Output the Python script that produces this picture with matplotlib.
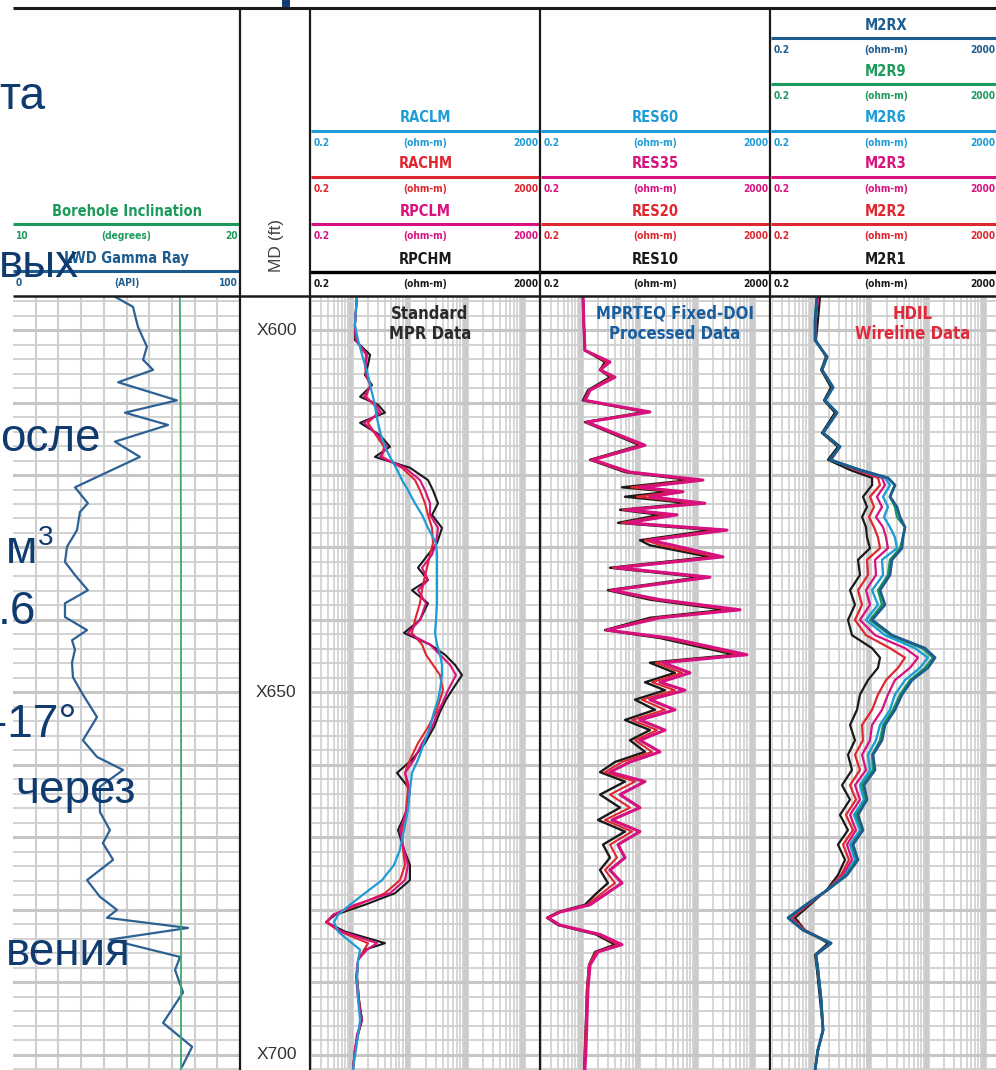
import numpy as np
import matplotlib
matplotlib.use('Agg')
import matplotlib.pyplot as plt
from matplotlib.patches import Rectangle

W, H = 996, 1070
DPI = 100

# ── Log data (depth in ft MD, GR in API, resistivity in ohm-m) ──────────
gr_depth = [595.4, 596.8, 597.9, 599.6, 602.3, 604.1, 605.5, 607.2, 609.7, 611.4,
            613.1, 615.4, 617.5, 621.7, 623.9, 625.1, 627.6, 629.9, 632.0, 633.8,
            635.9, 637.7, 639.6, 641.4, 642.8, 644.1, 645.9, 647.9, 650.1, 653.4,
            656.6, 658.9, 660.7, 663.0, 666.5, 669.0, 670.8, 673.1, 675.9, 678.2,
            680.0, 681.1, 682.5, 684.1, 686.5, 688.3, 691.4, 695.6, 698.9, 701.7]
gr_api = [44.9, 52.9, 53.7, 55.1, 59.0, 57.3, 61.7, 46.3, 72.2, 49.3,
          68.3, 44.9, 55.9, 27.3, 33.0, 29.5, 28.2, 23.8, 22.9, 27.3,
          33.0, 22.9, 22.9, 32.6, 26.0, 27.3, 26.0, 26.4, 30.4, 37.0,
          30.8, 37.0, 48.5, 38.3, 38.3, 42.7, 39.6, 44.1, 32.6, 38.3,
          45.8, 41.4, 77.1, 42.7, 73.6, 71.4, 74.9, 66.1, 78.9, 74.4]

incl_depth = [595.3, 610.0, 630.0, 650.0, 670.0, 690.0, 702.1]
incl_deg = [17.35, 17.38, 17.40, 17.40, 17.41, 17.40, 17.40]

# Standard MPR data
std_depth = [595.3, 597.2, 599.3, 601.4, 603.4, 604.8, 606.2, 607.6, 609.2, 610.3,
             611.4, 612.8, 614.5, 616.1, 617.5, 619.0, 620.7, 622.1, 623.9, 625.5,
             627.3, 629.4, 631.0, 632.8, 634.5, 635.9, 637.7, 640.0, 641.8, 643.4,
             644.8, 646.2, 647.6, 649.7, 651.0, 652.7, 654.8, 657.0, 659.3, 661.1,
             663.4, 666.2, 669.0, 671.7, 673.8, 675.9, 677.7, 679.3, 680.7, 681.7,
             683.0, 684.6, 685.5, 686.9, 689.2, 692.4, 695.2, 697.2, 699.3, 702.1]
raclm = [1.27, 1.22, 1.17, 1.33, 1.56, 1.75, 1.98, 2.15, 2.42, 2.62,
         2.73, 2.96, 3.34, 3.92, 4.80, 6.11, 7.77, 9.89, 13.1, 17.4,
         22.1, 30.5, 31.8, 31.8, 31.8, 31.8, 31.8, 30.5, 29.3, 31.8,
         35.8, 38.8, 38.8, 35.8, 33.1, 28.1, 24.0, 18.8, 14.8, 11.6,
         10.7, 9.89, 8.43, 7.17, 5.64, 3.48, 1.75, 0.96, 0.593, 0.504,
         0.593, 1.04, 1.44, 1.33, 1.27, 1.33, 1.44, 1.33, 1.22, 1.08]
rachm = [1.27, 1.22, 1.17, 1.22, 1.83, 1.75, 1.83, 2.15, 1.83, 2.52,
         2.96, 1.98, 2.73, 3.77, 3.48, 7.77, 13.1, 16.0, 19.6, 22.1,
         26.0, 27.0, 24.0, 21.3, 18.8, 17.4, 16.0, 13.1, 11.6, 17.4,
         20.4, 27.0, 35.8, 40.4, 35.8, 30.5, 22.1, 14.8, 10.7, 8.77,
         9.89, 9.13, 7.77, 8.09, 8.77, 7.17, 3.92, 1.33, 0.484, 0.366,
         0.643, 1.98, 1.69, 1.33, 1.27, 1.38, 1.49, 1.33, 1.17, 1.08]
rpclm = [1.27, 1.22, 1.17, 1.22, 1.90, 1.83, 1.83, 2.23, 1.69, 2.73,
         3.34, 1.69, 2.96, 4.25, 3.21, 8.77, 16.0, 19.6, 24.0, 24.0,
         33.1, 30.5, 26.0, 17.4, 22.1, 14.8, 20.4, 16.0, 9.89, 24.0,
         35.8, 53.6, 68.2, 49.4, 42.1, 33.1, 26.0, 17.4, 12.6, 8.77,
         10.7, 9.51, 7.17, 8.43, 9.89, 8.77, 4.80, 1.17, 0.484, 0.381,
         0.696, 2.84, 1.90, 1.33, 1.22, 1.33, 1.56, 1.27, 1.17, 1.08]
rpchm = [1.27, 1.22, 1.17, 1.17, 2.15, 1.98, 1.75, 2.33, 1.44, 2.96,
         3.92, 1.44, 3.21, 4.80, 2.62, 10.7, 22.1, 27.0, 33.1, 26.0,
         38.8, 31.8, 22.1, 14.8, 22.1, 11.6, 22.1, 16.0, 8.43, 24.0,
         43.8, 65.5, 86.8, 58.1, 45.6, 35.8, 28.1, 19.6, 11.6, 6.36,
         10.7, 9.51, 6.62, 8.43, 10.7, 10.7, 5.86, 1.75, 0.525, 0.366,
         0.785, 3.92, 1.75, 1.33, 1.27, 1.38, 1.56, 1.33, 1.17, 1.08]

# MPRTEQ fixed-DOI processed data
teq_depth = [595.3, 600.0, 602.8, 604.4, 605.5, 606.5, 608.3, 609.7, 611.3, 612.7,
             615.9, 617.9, 619.6, 620.7, 621.7, 622.3, 623.0, 623.9, 624.8, 625.5,
             626.6, 627.6, 629.0, 629.7, 631.3, 632.8, 634.1, 635.9, 637.2, 638.6,
             639.7, 641.4, 642.5, 644.8, 645.9, 647.3, 648.6, 649.7, 651.0, 652.4,
             653.8, 655.2, 656.6, 658.2, 659.6, 661.0, 662.3, 664.1, 665.9, 667.6,
             669.2, 671.0, 672.8, 674.5, 676.3, 677.9, 679.3, 680.3, 681.1, 682.1,
             683.4, 684.8, 685.8, 687.6, 691.0, 695.2, 699.3, 702.1]
res35 = [1.08, 1.13, 1.17, 3.21, 2.15, 3.92, 1.44, 1.17, 16.0, 1.27,
         13.1, 1.62, 7.17, 135, 10.7, 60.4, 16.0, 146, 6.35, 47.5,
         6.35, 355, 16.0, 40.4, 302, 4.25, 179, 3.48, 24.0, 598,
         24.0, 2.84, 35.8, 793, 27.0, 80.1, 24.0, 65.5, 16.0, 43.8,
         10.7, 29.3, 10.7, 24.0, 7.17, 3.21, 13.1, 4.80, 10.7, 3.48,
         10.7, 4.43, 5.86, 3.21, 5.20, 2.62, 1.44, 0.43, 0.265, 0.43,
         2.15, 5.20, 1.98, 1.44, 1.32, 1.27, 1.22, 1.17]
res60 = [1.08, 1.13, 1.17, 3.10, 2.15, 3.80, 1.44, 1.17, 15.5, 1.27,
         12.8, 1.62, 7.00, 128, 10.5, 58.0, 15.6, 140, 6.30, 46.0,
         6.30, 340, 15.6, 39.5, 290, 4.20, 172, 3.45, 23.5, 570,
         23.5, 2.80, 35.0, 760, 26.5, 78.0, 23.5, 64.0, 15.6, 43.0,
         10.5, 28.8, 10.5, 23.5, 7.00, 3.15, 12.8, 4.70, 10.5, 3.40,
         10.5, 4.35, 5.75, 3.15, 5.10, 2.58, 1.42, 0.43, 0.265, 0.43,
         2.10, 5.10, 1.96, 1.43, 1.31, 1.26, 1.21, 1.16]
res20 = [1.08, 1.13, 1.17, 2.84, 2.15, 3.48, 1.38, 1.13, 14.2, 1.22,
         11.6, 1.49, 6.35, 102, 7.47, 45.6, 9.51, 106, 5.41, 33.1,
         5.20, 258, 13.1, 24.9, 228, 3.62, 146, 3.21, 19.6, 434,
         19.6, 2.73, 29.3, 623, 20.4, 58.1, 17.4, 43.8, 11.6, 29.3,
         7.78, 21.3, 8.77, 17.4, 5.20, 2.62, 8.77, 3.21, 7.17, 2.62,
         7.78, 3.21, 4.25, 2.62, 3.92, 2.15, 1.27, 0.415, 0.255, 0.415,
         1.98, 4.43, 1.83, 1.38, 1.27, 1.22, 1.17, 1.13]
res10 = [1.08, 1.13, 1.17, 2.62, 2.15, 3.21, 1.32, 1.08, 13.1, 1.17,
         10.7, 1.44, 5.86, 80.1, 5.20, 35.8, 5.86, 80.1, 4.80, 24.0,
         4.43, 194, 10.7, 16.0, 179, 3.21, 120, 2.95, 16.0, 327,
         16.0, 2.62, 24.0, 489, 16.0, 43.8, 13.1, 29.3, 8.77, 19.6,
         5.86, 16.0, 7.17, 13.1, 3.92, 2.15, 5.86, 2.15, 4.80, 1.98,
         5.86, 2.42, 3.21, 2.15, 2.95, 1.76, 1.17, 0.40, 0.255, 0.40,
         1.83, 3.92, 1.76, 1.38, 1.27, 1.22, 1.17, 1.13]

# HDIL wireline data
hdil_depth = [595.3, 598.6, 601.4, 603.7, 605.5, 607.9, 609.7, 611.4, 614.2, 616.1,
              617.9, 619.3, 620.4, 621.4, 623.0, 624.4, 625.8, 627.2, 628.6, 630.1,
              631.7, 633.8, 635.9, 637.9, 640.0, 642.1, 643.9, 645.2, 646.6, 648.3,
              650.3, 652.4, 654.5, 656.6, 658.6, 660.7, 662.8, 664.8, 666.9, 669.0,
              671.0, 673.1, 675.2, 677.2, 679.3, 681.1, 682.8, 684.6, 686.2, 688.3,
              692.4, 696.6, 699.3, 702.1]
m2r1 = [1.38, 1.27, 1.17, 1.75, 1.44, 2.15, 1.62, 2.52, 1.49, 2.84,
        1.90, 4.61, 11.2, 11.2, 7.77, 9.13, 7.47, 8.77, 9.13, 10.3,
        6.35, 6.88, 4.61, 5.63, 4.25, 4.99, 11.2, 15.4, 14.2, 9.50,
        6.88, 6.10, 4.61, 5.63, 4.25, 4.99, 3.34, 4.61, 3.08, 4.25,
        2.84, 3.77, 2.84, 1.83, 0.922, 0.505, 0.754, 1.90, 1.13, 1.22,
        1.38, 1.56, 1.27, 1.13]
m2r2 = [1.27, 1.17, 1.13, 1.83, 1.49, 2.33, 1.69, 2.73, 1.56, 3.08,
        2.15, 5.86, 14.2, 15.4, 10.3, 12.1, 9.89, 12.1, 14.2, 15.4,
        9.13, 9.50, 6.35, 7.47, 5.63, 8.77, 23.0, 42.1, 31.8, 19.6,
        14.2, 11.2, 7.47, 7.77, 5.63, 6.88, 4.61, 5.86, 3.92, 5.20,
        3.48, 4.43, 3.21, 1.90, 0.850, 0.447, 0.754, 2.06, 1.17, 1.27,
        1.44, 1.56, 1.27, 1.13]
m2r3 = [1.27, 1.17, 1.13, 1.83, 1.49, 2.33, 1.69, 2.73, 1.56, 3.08,
        2.15, 6.35, 16.7, 18.8, 13.6, 16.7, 13.1, 17.4, 19.6, 21.2,
        12.6, 13.1, 8.77, 10.3, 6.88, 12.6, 42.1, 71.0, 51.5, 28.1,
        21.2, 16.7, 11.2, 10.3, 7.47, 8.77, 5.63, 6.88, 4.61, 5.86,
        4.08, 4.99, 3.48, 1.90, 0.817, 0.413, 0.724, 2.15, 1.17, 1.27,
        1.44, 1.56, 1.27, 1.13]
m2r6 = [1.22, 1.13, 1.13, 1.83, 1.49, 2.33, 1.69, 2.73, 1.56, 3.08,
        2.06, 6.88, 18.8, 23.0, 17.4, 21.2, 18.1, 23.0, 28.1, 30.5,
        16.7, 17.4, 11.2, 14.2, 8.77, 18.8, 62.9, 106, 77.0, 42.1,
        28.1, 23.0, 15.4, 13.1, 9.50, 10.3, 6.88, 8.09, 5.41, 6.88,
        4.61, 5.63, 3.77, 1.90, 0.785, 0.397, 0.696, 2.15, 1.17, 1.27,
        1.44, 1.56, 1.27, 1.13]
m2r9 = [1.22, 1.13, 1.13, 1.83, 1.49, 2.33, 1.69, 2.73, 1.56, 3.08,
        2.06, 6.88, 21.2, 28.1, 23.0, 28.1, 30.5, 42.1, 38.8, 34.4,
        23.0, 21.2, 14.2, 16.7, 10.3, 23.0, 83.4, 130, 94.1, 51.5,
        34.4, 26.0, 17.4, 15.4, 11.2, 11.6, 7.47, 8.77, 5.86, 7.47,
        4.99, 6.10, 3.92, 1.90, 0.785, 0.381, 0.696, 2.15, 1.17, 1.27,
        1.44, 1.56, 1.27, 1.13]
m2rx = [1.22, 1.13, 1.13, 1.83, 1.49, 2.33, 1.69, 2.73, 1.56, 3.08,
        2.06, 6.88, 21.2, 28.1, 23.0, 30.5, 34.4, 42.1, 38.8, 37.3,
        24.9, 23.0, 15.4, 18.8, 11.2, 24.9, 94.1, 141, 106, 55.8,
        37.3, 28.1, 18.8, 16.7, 11.6, 12.6, 8.09, 9.13, 6.35, 7.77,
        5.20, 6.35, 4.08, 1.90, 0.785, 0.381, 0.696, 2.15, 1.17, 1.27,
        1.44, 1.56, 1.27, 1.13]

depth_marks = [600, 650, 700]

# colours
C_LBLUE = '#1E9CD7'
C_RED = '#E0262F'
C_MAG = '#D9117F'
C_BLACK = '#1A1A1A'
C_GREEN = '#1C9A5B'
C_DBLUE = '#1C5C8E'
C_GR = '#2D6193'
C_INCL = '#3FA86B'
C_SLIDE = '#0F3B6E'
GRID = '#CFCFCF'

COND = ['Liberation Sans Narrow', 'DejaVu Sans']
SANS = ['Liberation Sans', 'DejaVu Sans']

DTOP, DBOT = 595.3, 702.1
Y_DATA_TOP = 296

fig = plt.figure(figsize=(W / DPI, H / DPI), dpi=DPI)
fig.patch.set_facecolor('white')


def strip_ticks(ax):
    ax.tick_params(which='both', bottom=False, top=False, left=False, right=False,
                   labelbottom=False, labeltop=False, labelleft=False, labelright=False)


def track_axes(x0, x1):
    ax = fig.add_axes([x0 / W, 0, (x1 - x0) / W, (H - Y_DATA_TOP) / H])
    ax.set_ylim(DBOT, DTOP)
    ax.set_facecolor('none')
    for s in ax.spines.values():
        s.set_visible(False)
    strip_ticks(ax)
    return ax


def depth_grid(ax):
    for d in range(596, 703, 2):
        thick = d % 10 == 0
        ax.axhline(d, color='#C6C6C6' if thick else GRID,
                   lw=2.2 if thick else 1.3, zorder=0.5)


def log_grid(ax):
    ax.set_xscale('log')
    ax.set_xlim(0.2, 2000)
    strip_ticks(ax)
    for e in range(-1, 4):
        for m in range(1, 10):
            v = m * 10.0 ** e
            if v < 0.2 or v > 2000:
                continue
            if m == 1:
                ax.axvline(v, color='#CBCBCB', lw=4.0, zorder=0.5)
            else:
                ax.axvline(v, color=GRID, lw=1.2, zorder=0.5)
    depth_grid(ax)


line_kw = dict(solid_joinstyle='round', solid_capstyle='round', zorder=3)

# ── Track 1: gamma ray + inclination ──
ax1 = track_axes(13, 240)
ax1.set_xlim(0, 100)
for v in range(10, 100, 10):
    ax1.axvline(v, color=GRID, lw=1.5, zorder=0.5)
depth_grid(ax1)
ax1.plot(gr_api, gr_depth, color=C_GR, lw=1.6, **line_kw)
ax1b = ax1.twiny()
ax1b.set_xlim(10, 20)
ax1b.set_ylim(DBOT, DTOP)
ax1b.axis('off')
ax1b.plot(incl_deg, incl_depth, color=C_INCL, lw=1.3, zorder=2)

# ── Depth track ──
axd = track_axes(240, 310)
axd.set_xlim(0, 1)
for d in depth_marks:
    axd.text(0.52, d, f'X{d}', ha='center', va='center', fontsize=12.5,
             color='#333333', family=SANS)

# ── Track 3: standard MPR ──
ax3 = track_axes(311, 540)
log_grid(ax3)
ax3.plot(rpchm, std_depth, color=C_BLACK, lw=1.5, **line_kw)
ax3.plot(rachm, std_depth, color=C_RED, lw=1.5, **line_kw)
ax3.plot(rpclm, std_depth, color=C_MAG, lw=1.5, **line_kw)
ax3.plot(raclm, std_depth, color=C_LBLUE, lw=1.6, **line_kw)

# ── Track 4: MPRTEQ ──
ax4 = track_axes(541, 770)
log_grid(ax4)
ax4.plot(res60, teq_depth, color=C_LBLUE, lw=1.6, **line_kw)
ax4.plot(res10, teq_depth, color=C_BLACK, lw=1.7, **line_kw)
ax4.plot(res20, teq_depth, color=C_RED, lw=1.5, **line_kw)
ax4.plot(res35, teq_depth, color=C_MAG, lw=2.2, **line_kw)

# ── Track 5: HDIL ──
ax5 = track_axes(772, 1001)
log_grid(ax5)
for vals, col, lw in [(m2r1, C_BLACK, 1.6), (m2r2, C_RED, 1.6), (m2r3, C_MAG, 1.6),
                      (m2r6, C_LBLUE, 1.7), (m2r9, C_GREEN, 1.7), (m2rx, C_DBLUE, 2.0)]:
    ax5.plot(vals, hdil_depth, color=col, lw=lw, **line_kw)

# ── Overlay: headers, borders, titles ──
ax0 = fig.add_axes([0, 0, 1, 1])
ax0.set_xlim(0, W)
ax0.set_ylim(H, 0)
ax0.axis('off')
ax0.patch.set_alpha(0)


def header(x0, x1, y_line, name, color, lo='0.2', unit='(ohm-m)', hi='2000', hi_x=None):
    xc = (x0 + x1) / 2
    ax0.text(xc, y_line - 13, name, color=color, fontsize=10.5, fontweight='bold',
             fontstretch='condensed', ha='center', va='center', family=COND)
    ax0.plot([x0, x1], [y_line, y_line], color=color, lw=2.2, solid_capstyle='butt')
    yl = y_line + 12
    kw = dict(color=color, fontsize=7.3, fontweight='bold', fontstretch='condensed',
              va='center', family=COND)
    ax0.text(x0 + 3, yl, lo, ha='left', **kw)
    ax0.text(xc, yl, unit, ha='center', **kw)
    ax0.text(hi_x if hi_x else x1 - 2, yl, hi, ha='right', **kw)


# track 1
header(13, 240, 224, 'Borehole Inclination', C_GREEN, '10', '(degrees)', '20')
header(13, 240, 271, 'LWD Gamma Ray', C_DBLUE, '0', '(API)', '100')
# track 3
header(311, 540, 131, 'RACLM', C_LBLUE)
header(311, 540, 177, 'RACHM', C_RED)
header(311, 540, 224, 'RPCLM', C_MAG)
header(311, 540, 272, 'RPCHM', C_BLACK)
# track 4
header(541, 770, 131, 'RES60', C_LBLUE)
header(541, 770, 177, 'RES35', C_MAG)
header(541, 770, 224, 'RES20', C_RED)
header(541, 770, 272, 'RES10', C_BLACK)
# track 5
header(771, 1001, 38, 'M2RX', C_DBLUE, hi_x=995)
header(771, 1001, 84, 'M2R9', C_GREEN, hi_x=995)
header(771, 1001, 131, 'M2R6', C_LBLUE, hi_x=995)
header(771, 1001, 177, 'M2R3', C_MAG, hi_x=995)
header(771, 1001, 224, 'M2R2', C_RED, hi_x=995)
header(771, 1001, 272, 'M2R1', C_BLACK, hi_x=995)

ax0.plot([310, W], [272, 272], color='black', lw=2.4, solid_capstyle='butt')
ax0.plot([13, W], [8, 8], color='#1a1a1a', lw=2.2, solid_capstyle='butt')
ax0.plot([13, W], [Y_DATA_TOP, Y_DATA_TOP], color='#1a1a1a', lw=1.8, solid_capstyle='butt')
for xb in [240, 310, 540, 770]:
    ax0.plot([xb, xb], [8, H], color='#1a1a1a', lw=1.6, solid_capstyle='butt')

ax0.text(277, 245, 'MD (ft)', rotation=90, ha='center', va='center',
         fontsize=12.5, color='#444444', family=SANS)

ttl = dict(fontsize=12, fontweight='bold', fontstretch='condensed', ha='center',
           va='center', family=COND, linespacing=1.15)
ax0.text(430, 324, 'Standard\nMPR Data', color='#2A2A2A', **ttl)
ax0.text(675, 324, 'MPRTEQ Fixed-DOI\nProcessed Data', color='#1A5E9E', **ttl)
ax0.text(913, 324, 'HDIL\nWireline Data', color='#E02A3C', **ttl)

# fragment of the slide title above the log
ax0.add_patch(Rectangle((282, 0), 8, 7, color='#123F73', lw=0))

# slide text running over the left track
st = dict(color=C_SLIDE, fontsize=33, ha='right', va='center', family=SANS, zorder=10)
ax0.text(45, 97, 'та', **st)
ax0.text(79, 265, 'вых', **st)
ax0.text(101, 439, 'осле', **st)
ax0.text(37, 551, 'м', **st)
ax0.text(38, 538, '3', color=C_SLIDE, fontsize=20, ha='left', va='center',
         family=SANS, zorder=10)
ax0.text(36, 612, '.6', **st)
ax0.text(77, 725, '-17°', **st)
ax0.text(136, 791, 'через', **st)
ax0.text(131, 953, 'вения', **st)

fig.savefig('out.png', dpi=DPI)
